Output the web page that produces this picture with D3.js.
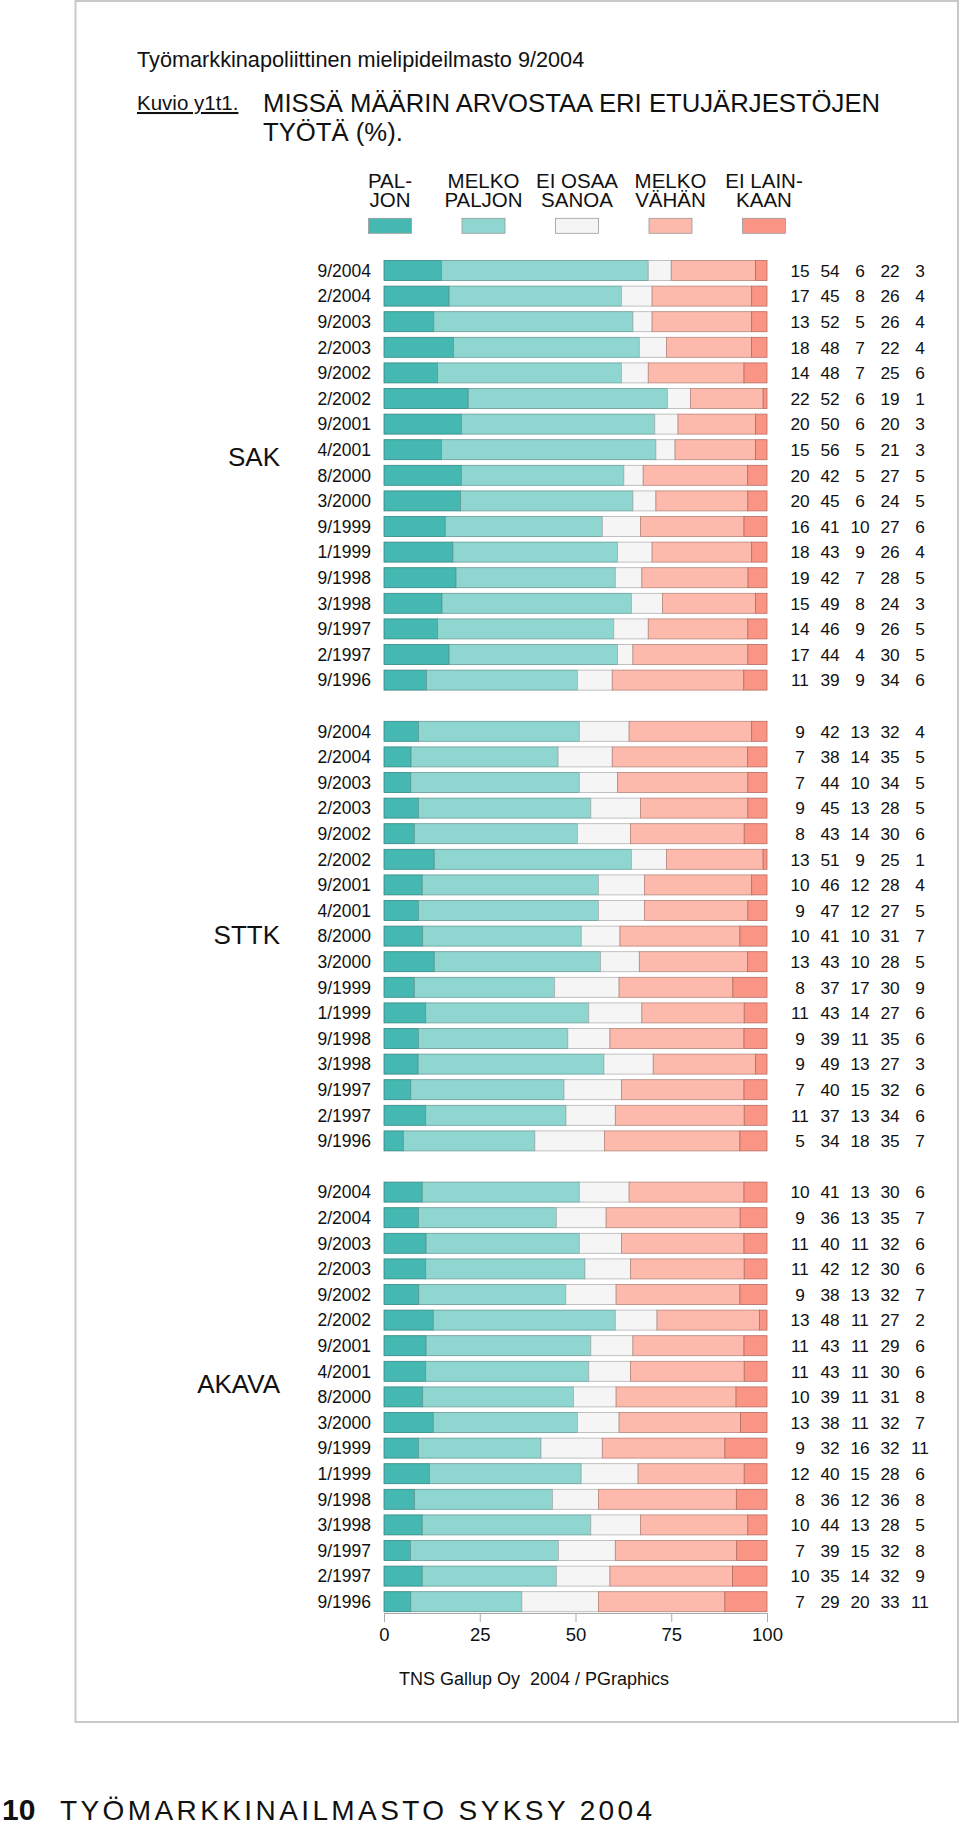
<!DOCTYPE html>
<html>
<head>
<meta charset="utf-8">
<script src="https://cdn.jsdelivr.net/npm/d3@7/dist/d3.min.js"></script>
<style>
  html, body { margin: 0; padding: 0; background: #fff; }
  svg { display: block; }
  text { font-family: "Liberation Sans", Arial, Helvetica, sans-serif; fill: #111; }
  .narrow { font-family: "Liberation Sans Narrow", "Liberation Sans", Arial, sans-serif; }
</style>
</head>
<body>
<svg id="chart" width="960" height="1826"></svg>
<script>
// ---------- DATA ----------
const categories = ["PALJON", "MELKO PALJON", "EI OSAA SANOA", "MELKO VÄHÄN", "EI LAINKAAN"];
const legendLines = [["PAL-", "JON"], ["MELKO", "PALJON"], ["EI OSAA", "SANOA"], ["MELKO", "VÄHÄN"], ["EI LAIN-", "KAAN"]];
const colors = ["#46b8b2", "#8fd6d1", "#f5f5f5", "#fdb9ab", "#fa9586"];
const groups = ["SAK", "STTK", "AKAVA"];
const dates = ["9/2004","2/2004","9/2003","2/2003","9/2002","2/2002","9/2001","4/2001","8/2000","3/2000","9/1999","1/1999","9/1998","3/1998","9/1997","2/1997","9/1996"];
const sakValues = [
  [15,54,6,22,3],[17,45,8,26,4],[13,52,5,26,4],[18,48,7,22,4],[14,48,7,25,6],
  [22,52,6,19,1],[20,50,6,20,3],[15,56,5,21,3],[20,42,5,27,5],[20,45,6,24,5],
  [16,41,10,27,6],[18,43,9,26,4],[19,42,7,28,5],[15,49,8,24,3],[14,46,9,26,5],
  [17,44,4,30,5],[11,39,9,34,6]
];
const sttkValues = [
  [9,42,13,32,4],[7,38,14,35,5],[7,44,10,34,5],[9,45,13,28,5],[8,43,14,30,6],
  [13,51,9,25,1],[10,46,12,28,4],[9,47,12,27,5],[10,41,10,31,7],[13,43,10,28,5],
  [8,37,17,30,9],[11,43,14,27,6],[9,39,11,35,6],[9,49,13,27,3],[7,40,15,32,6],
  [11,37,13,34,6],[5,34,18,35,7]
];
const akavaValues = [
  [10,41,13,30,6],[9,36,13,35,7],[11,40,11,32,6],[11,42,12,30,6],[9,38,13,32,7],
  [13,48,11,27,2],[11,43,11,29,6],[11,43,11,30,6],[10,39,11,31,8],[13,38,11,32,7],
  [9,32,16,32,11],[12,40,15,28,6],[8,36,12,36,8],[10,44,13,28,5],[7,39,15,32,8],
  [10,35,14,32,9],[7,29,20,33,11]
];
const axisTicks = [0, 25, 50, 75, 100];
const groupValues = [sakValues, sttkValues, akavaValues];

// ---------- LAYOUT ----------
const svg = d3.select("#chart");

// frame
svg.append("rect").attr("x", 75.5).attr("y", 1).attr("width", 882.5).attr("height", 1721)
  .attr("fill", "none").attr("stroke", "#c9c9c9").attr("stroke-width", 2);

// titles
svg.append("text").attr("x", 137).attr("y", 67).style("font-size", "21.7px")
  .text("Työmarkkinapoliittinen mielipideilmasto 9/2004");
svg.append("text").attr("x", 137).attr("y", 110).style("font-size", "20.5px")
  .attr("text-decoration", "underline").text("Kuvio y1t1.");
svg.append("text").attr("x", 263).attr("y", 112).style("font-size", "25.7px")
  .text("MISSÄ MÄÄRIN ARVOSTAA ERI ETUJÄRJESTÖJEN");
svg.append("text").attr("x", 263).attr("y", 141).style("font-size", "25.7px")
  .text("TYÖTÄ (%).");

// scales
const x = d3.scaleLinear().domain([0, 100]).range([384, 767]);
const slots = [];
groups.forEach((g, gi) => {
  dates.forEach(d => slots.push(g + "|" + d));
  if (gi < groups.length - 1) slots.push("gap" + gi);
});
const y = d3.scaleBand().domain(slots).range([257.7, 1614.5]).paddingInner(0.219).paddingOuter(0.1095);
const color = d3.scaleOrdinal().domain(categories).range(colors);
const legendX = d3.scalePoint().domain(categories).range([390, 764]);
const colX = d3.scalePoint().domain(d3.range(5)).range([800, 920]);

// legend
const leg = svg.append("g");
categories.forEach((c, i) => {
  const cx = legendX(c);
  legendLines[i].forEach((ln, j) => {
    leg.append("text").attr("class", "narrow").attr("x", cx).attr("y", 187.5 + j * 19.6)
      .attr("text-anchor", "middle").style("font-size", "20.5px").text(ln);
  });
  leg.append("rect").attr("x", cx - 21.5).attr("y", 218.3).attr("width", 43).attr("height", 15)
    .attr("fill", color(c)).attr("stroke", "#9a9a9a").attr("stroke-width", 0.8);
});

// bars
const groupLabelY = { SAK: 457, STTK: 935, AKAVA: 1384 };
groups.forEach((g, gi) => {
  const vals = groupValues[gi];
  const gEl = svg.append("g");
  dates.forEach((d, di) => {
    const row = vals[di];
    const total = d3.sum(row);
    const key = g + "|" + d;
    const yy = y(key), bh = y.bandwidth();
    let cum = 0;
    row.forEach((v, k) => {
      const x0 = x(cum / total * 100), x1 = x((cum + v) / total * 100);
      cum += v;
      const fill = color(categories[k]);
      gEl.append("rect").attr("x", x0).attr("y", yy).attr("width", Math.max(0, x1 - x0)).attr("height", bh)
        .attr("fill", fill).attr("stroke", d3.color(fill).darker(0.9)).attr("stroke-width", 0.8);
    });
    gEl.append("text").attr("x", 371).attr("y", yy + bh / 2).attr("dy", "0.36em")
      .attr("text-anchor", "end").style("font-size", "17.5px").text(d);
    row.forEach((v, k) => {
      gEl.append("text").attr("x", colX(k)).attr("y", yy + bh / 2).attr("dy", "0.36em")
        .attr("text-anchor", "middle").style("font-size", "17.3px").text(v);
    });
  });
  gEl.append("text").attr("x", 280).attr("y", groupLabelY[g]).attr("dy", "0.36em")
    .attr("text-anchor", "end").style("font-size", "26px").text(g);
});

// axis
const axisY = 1613;
const axis = svg.append("g").attr("transform", `translate(0,${axisY})`)
  .call(d3.axisBottom(x).tickValues(axisTicks).tickSize(9).tickSizeOuter(0).tickPadding(6));
axis.select(".domain").attr("stroke", "#aaa");
axis.selectAll(".tick line").attr("stroke", "#aaa");
axis.selectAll(".tick text").style("font-size", "18.5px").style("font-family", "'Liberation Sans', Arial, sans-serif").attr("fill", "#111");

// source
svg.append("text").attr("x", 534).attr("y", 1685).attr("text-anchor", "middle")
  .style("font-size", "18px").style("white-space", "pre").text("TNS Gallup Oy  2004 / PGraphics");

// footer
svg.append("text").attr("x", 2).attr("y", 1820).style("font-size", "30px").style("font-weight", "bold").text("10");
svg.append("text").attr("x", 60).attr("y", 1820).style("font-size", "28px").style("letter-spacing", "3.4px")
  .text("TYÖMARKKINAILMASTO SYKSY 2004");
</script>
</body>
</html>
